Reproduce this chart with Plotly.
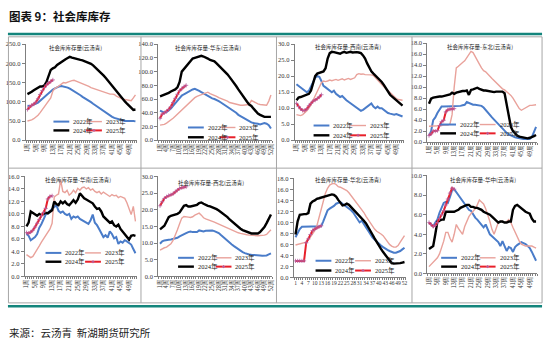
import plotly.graph_objects as go

W, H = 550, 349

weeks = list(range(1, 53))
weeks_2025 = list(range(1, 14))
years = ["2022年", "2023年", "2024年", "2025年"]

# 社会库库存量 (全国)
total_2022 = [90, 89, 90, 92, 94, 98, 103, 108, 114, 119, 124, 128, 132, 135, 138, 140, 141, 140, 139, 137,
              134, 131, 128, 124, 120, 117, 113, 110, 107, 103, 99, 95, 91, 87, 83, 79, 75, 71, 67, 64,
              61, 58, 56, 54, 53, 51, 50, 50, 50, 51, 50, 49]
total_2023 = [50, 51, 53, 56, 60, 65, 72, 80, 88, 96, 103, 110, 128, 135, 138, 142, 148, 150, 149, 152,
              153, 155, 156, 154, 152, 150, 147, 145, 142, 140, 137, 135, 133, 131, 129, 127, 125, 123, 121, 120,
              120, 119, 115, 112, 109, 107, 106, 105, 104, 103, 110, 118]
total_2024 = [120, 122, 126, 130, 134, 138, 140, 140, 143, 152, 168, 183, 187, 190, 196, 200, 205, 208, 211, 214,
              217, 215, 213, 212, 210, 209, 208, 206, 205, 203, 199, 195, 190, 185, 180, 174, 168, 162, 155, 148,
              141, 134, 127, 120, 114, 107, 101, 95, 89, 83, 79, 80]
total_2025 = [80, 87, 91, 94, 99, 108, 119, 129, 137, 144, 149, 153, 157]

# 华东
east_2022 = [43, 41, 40, 41, 43, 46, 50, 54, 58, 62, 65, 67, 69, 71, 73, 74, 75, 74, 72, 70,
             68, 66, 64, 62, 61, 60, 59, 57, 55, 53, 51, 49, 46, 44, 42, 40, 37, 35, 33, 31,
             29, 28, 26, 25, 25, 24, 23, 24, 25, 24, 22, 17]
east_2023 = [22, 22, 23, 25, 27, 30, 32, 35, 38, 41, 44, 47, 50, 54, 57, 60, 62, 64, 65, 66,
             67, 69, 70, 68, 67, 66, 64, 62, 61, 59, 58, 57, 55, 54, 53, 52, 52, 51, 51, 51,
             51, 52, 58, 56, 54, 53, 52, 52, 51, 51, 57, 66]
east_2024 = [64, 65, 66, 67, 69, 71, 72, 74, 77, 85, 100, 104, 108, 112, 116, 119, 120, 121, 122, 123,
             122, 121, 119, 117, 116, 115, 112, 109, 106, 103, 100, 96, 92, 88, 84, 79, 74, 69, 64, 60,
             56, 52, 50, 46, 42, 39, 37, 35, 34, 34, 34, 34]
east_2025 = [32, 38, 40, 42, 45, 49, 55, 61, 67, 72, 75, 78, 80]

# 西南
southwest_2022 = [17.5, 17, 16.5, 16, 15.3, 15, 15.5, 17, 18.5, 19.5, 20, 19.8, 18.5, 17, 16.5, 16, 15.3, 15, 15.5, 14.5,
                  14, 13.5, 13.8, 13, 12.5, 12, 11.5, 11, 10.5, 10, 9.5, 9.2, 9.5, 10, 10.5, 11, 11.5, 10.5, 10, 10.5,
                  10, 10, 9.5, 9, 8.5, 8.3, 8.2, 8, 8.2, 8, 7.6, 7.4]
southwest_2023 = [8, 7.8, 7.7, 8, 8.5, 9.2, 10, 11, 12.5, 14, 15.5, 16.8, 18, 18.5, 18.3, 18.5, 18.8, 18.6, 18.8, 19,
                  18.7, 19, 19.2, 18.8, 19, 19.3, 19, 19.2, 19.5, 20.5, 20.8, 20.6, 20.7, 20.5, 20.5, 20.3, 20.4, 20.2, 19.5, 18.8,
                  18, 17.2, 16.5, 16, 15.5, 14.8, 14.2, 13.5, 13, 12.7, 12.6, 12.5]
southwest_2024 = [12.5, 13.3, 13.5, 13.8, 14, 14.3, 14.5, 15.5, 17.5, 20, 20.8, 21, 21.2, 21.5, 22.5, 25.5, 27.2, 27.6, 27.5, 27.3,
                  27.2, 27, 27.4, 27.6, 27.3, 27.5, 27.6, 27.4, 27.5, 27.5, 27.4, 27.2, 26.5, 25.5, 24, 22.5, 21.5, 20.8, 20.2, 19.6,
                  19, 18.2, 17.3, 16.3, 15, 14.2, 13.6, 13, 12.5, 11.8, 11.2, 10.8]
southwest_2025 = [11.5, 10.5, 9.8, 9.3, 9.3, 9.8, 10.8, 11.5, 12.2, 12.5, 13, 13.5, 14.2]

# 东北
northeast_2022 = [1.2, 2, 4, 4.5, 5.3, 6, 6.5, 6.5, 6.5, 6.5, 6.5, 6.5, 6.6, 6.6, 6.6, 6.6, 6.7, 6.8, 7.3, 7.1,
                  6.9, 6.8, 6.8, 6.7, 6.7, 6.6, 6.3, 5.8, 5.3, 4.9, 4.5, 4.1, 3.7, 3.3, 2.8, 2.4, 2, 1.7, 1.4, 1.2,
                  1, 0.9, 0.8, 0.7, 0.7, 0.6, 0.6, 0.6, 0.6, 0.9, 1.8, 2.8]
northeast_2023 = [2.9, 2.9, 3, 2.9, 3, 3, 3, 3.1, 3.1, 3.1, 3.3, 5, 10, 13.5, 13.8, 14.2, 14.5, 14.8, 15.3, 16,
                  16.5, 16.3, 15.5, 14.8, 14.2, 13.5, 13, 12.8, 12.3, 12, 11.6, 11.2, 10.8, 10.4, 10, 9.7, 9.5, 9.2, 8.8, 8.5,
                  8, 7.4, 6.7, 6.1, 5.8, 6, 6.3, 6.5, 6.7, 6.7, 6.8, 6.8]
northeast_2024 = [7, 7.9, 8.1, 8.2, 8.3, 8.3, 8.3, 8.4, 8.5, 8.6, 8.7, 9, 8.8, 9, 9.1, 9.3, 9.3, 9.3, 9.4, 8.6,
                  9.5, 9.6, 9.8, 9.9, 9.7, 9.5, 9.4, 9.4, 9.3, 9.2, 9.1, 9.1, 9.2, 9.2, 9.3, 9.2, 8.9, 7, 4.5, 2.8,
                  2, 1.5, 1.2, 1, 0.9, 0.8, 0.7, 0.7, 0.8, 0.9, 1.1, 1.3]
northeast_2025 = [1.2, 1.5, 2, 2, 2.1, 3, 3.7, 4, 5.5, 5.9, 6, 6, 6.1]

# 华南
south_2022 = [6.8, 6.5, 5.8, 6, 6.3, 6.8, 7.8, 8.4, 9.3, 9.9, 10.2, 10.5, 10.8, 11.2, 11.4, 10.5, 10.2, 10.4, 10, 9.8,
              10, 9.2, 9.6, 9.4, 9.6, 9.2, 9, 8.8, 8.6, 8.4, 9, 9.9, 8.6, 8.2, 7.6, 6.8, 6.3, 6.6, 6.2, 7.2,
              6.8, 6.1, 6.3, 5.2, 5.6, 5.4, 5.8, 5.6, 5.3, 5.1, 4.4, 3.7]
south_2023 = [3.5, 3.2, 3, 3.2, 3.7, 4.3, 4.9, 5.5, 6, 6.5, 7, 7.6, 8.5, 12.7, 13, 13.2, 15.4, 13.6, 13.4, 13.8,
              13, 13.3, 13.8, 13.4, 14.1, 13.8, 14.2, 14.3, 14, 14.2, 13.8, 14, 13.6, 13.4, 13.6, 13.2, 13.5, 13.3, 13, 12.8,
              13.1, 12.9, 13, 12.6, 12.8, 12.7, 12.5, 11.8, 10.9, 9.9, 11.2, 8.8]
south_2024 = [8, 8.6, 10.4, 10.2, 9.9, 9.7, 10, 9.8, 10, 10.2, 10.1, 10.4, 10.6, 12, 11.6, 11.4, 12, 11.7, 12, 11.6,
              11.4, 11.8, 12.2, 11.8, 12.3, 13.3, 12.9, 12.5, 12.3, 12.1, 12, 11.7, 11.2, 10.8, 10.9, 10.4, 9.6, 9.3, 9, 8.6,
              8.8, 8.2, 8, 8.3, 7.6, 7.2, 6.8, 6.4, 5.9, 6.5, 6.6, 6.5]
south_2025 = [7, 6.9, 7.1, 7.4, 7.9, 8.5, 9.1, 9.7, 10.2, 10.9, 12.4, 12.8, 12.9]

# 西北
northwest_2022 = [9.8, 10.5, 10.8, 11, 11, 11.1, 11.2, 11.4, 11.6, 12, 12.4, 12.8, 13, 13.3, 13.5, 13.3, 13.3, 13.3, 13.8, 13.6,
                  13.5, 13.7, 13.8, 13.9, 13.8, 13.6, 13.3, 13, 12.4, 11.8, 11.1, 10.6, 10, 9.6, 9.1, 8.6, 8.2, 7.7, 7.3, 7,
                  6.7, 6.6, 6.5, 6.5, 6.4, 6.3, 6.3, 6.2, 6.2, 6.3, 6.6, 6.9]
northwest_2023 = [7.9, 8.3, 8.6, 8.8, 9.2, 9.8, 10.8, 12.2, 14, 15.8, 17.5, 18, 17.8, 17.8, 17.7, 17.9, 18.4, 18.6, 19, 18.4,
                  17.6, 17.3, 17.1, 16.8, 16.5, 16.3, 16, 15.7, 15.3, 15, 14.7, 14.4, 14.1, 13.8, 13.5, 13.3, 13.1, 12.9, 12.7, 12.6,
                  12.5, 12.4, 12.3, 12.2, 12.1, 12.2, 12.3, 12.3, 12.4, 12.6, 13.2, 14]
northwest_2024 = [14.1, 14.7, 15.2, 16.5, 17.8, 18.2, 18.4, 18.5, 18.8, 19.2, 20.4, 21.2, 21.4, 21, 21, 21.2, 21.3, 21.5, 22, 22.2,
                  21.8, 21.4, 21.2, 21, 20.8, 20.5, 20.2, 19.8, 19.3, 18.8, 18.4, 17.8, 17.1, 16.5, 15.8, 15.3, 14.8, 14.3, 13.9, 13.6,
                  13.3, 13, 12.9, 12.9, 12.8, 12.9, 13.3, 14, 14.8, 16, 17.3, 18.6]
northwest_2025 = [21.2, 22.4, 23.4, 23.9, 24.3, 24.5, 24.8, 25.4, 25.9, 26.4, 26.6, 26.8, 26.9]

# 华北
north_2022 = [7.3, 8, 8.8, 9.2, 9.2, 9.2, 9.2, 9.2, 9.2, 9.2, 9.2, 9.2, 9.3, 10.2, 11.2, 12.2, 12.5, 12.7, 13, 13.4,
              13.6, 13.7, 13.4, 13.1, 12.8, 12.6, 12.2, 11.8, 11.2, 10.6, 10, 10.3, 9.6, 9.1, 8.5, 7.8, 7.3, 6.9, 6.5, 6.1,
              5.8, 5.5, 5.2, 5, 4.8, 4.6, 4.5, 4.5, 4.6, 4.8, 5.1, 5.4]
north_2023 = [5.9, 6, 6.1, 6.2, 6.3, 6.4, 6.8, 7.3, 7.8, 8.5, 9.4, 11, 12.5, 14.2, 15.3, 16.2, 16.8, 17, 17.1, 16.9,
              16.5, 16.4, 16.2, 16.1, 15.8, 15.4, 14.9, 14.4, 13.9, 13.4, 12.9, 12.4, 11.8, 11.1, 10.5, 10, 9.4, 8.8, 8.4, 8.2,
              7.9, 7.6, 7.1, 6.4, 6, 5.7, 5.5, 5.5, 5.8, 6.4, 7, 7.6]
north_2024 = [7.8, 10.2, 11.4, 11.5, 11.5, 11.5, 11.7, 13.4, 13.8, 14, 14.3, 14.4, 14.5, 14.6, 14.8, 14.9, 15, 15.1, 15, 14.7,
              14.1, 13.6, 13.1, 13.2, 13.4, 13.2, 12.8, 12.4, 12, 11.6, 11.2, 10.8, 10.3, 9.8, 9.2, 8.5, 7.8, 7.1, 6.4, 5.8,
              5.2, 4.6, 4.1, 3.6, 3.1, 2.6, 2.5, 2.5, 2.6, 2.6, 2.7, 2.8]
north_2025 = [3, 3, 3, 3, 3, 6.3, 7, 7.8, 8.5, 8.8, 9, 9.2, 9.4]

# 华中
central_2022 = [5.2, 5, 4.8, 5.2, 5.5, 6.2, 6.8, 7.2, 7.3, 7.2, 7.8, 8.5, 8.6, 8.3, 8, 7.7, 7.3, 7, 6.8, 6.5,
                6.4, 6, 5.7, 5.5, 5.2, 4.9, 4.7, 5, 4.5, 4, 3.8, 3.6, 3.5, 3.2, 2.8, 3.3, 2.8, 2.3, 2.7, 2.6,
                2.2, 2.7, 2.9, 3.1, 3.2, 3.1, 3, 2.8, 2.6, 2.2, 1.7, 1.3]
central_2023 = [0.7, 0.9, 1.1, 1.3, 1.6, 2, 2.6, 3.3, 4.2, 4.2, 3.6, 3.2, 4, 5, 4.6, 4.3, 4, 4.8, 5.4, 5.8,
                6.1, 6.3, 6.6, 7, 7.5, 7.3, 7.1, 6.6, 6, 5.3, 4.5, 4, 4.6, 5.2, 5.3, 5.3, 5.2, 5.3, 5.5, 5.2,
                4.7, 4.2, 3.7, 3.3, 3, 2.9, 2.8, 2.8, 2.8, 2.8, 2.7, 2.6]
central_2024 = [2.5, 2.7, 2.8, 4, 5.3, 5.4, 5.5, 5.5, 6.3, 6.3, 6.3, 6.3, 6.3, 6.4, 6.5, 6.7, 6.8, 6.9, 7, 7,
                6.8, 6.8, 6.7, 6.7, 6.6, 6.5, 6.3, 6.2, 6.1, 6, 5.8, 5.6, 5.3, 5.2, 5.3, 5.3, 5.2, 5.2, 5.3, 5.3,
                6.5, 6.9, 7, 6.8, 6.7, 6.5, 6.3, 6.2, 6.1, 5.6, 5.3, 5.3]
central_2025 = [5.2, 5, 4.8, 4.9, 5.2, 5.6, 6, 6.4, 7, 7.6, 8.2, 8.7, 8.6]

line_colors = ["#4A7CC9", "#E9A29B", "#000000", "#E8202A"]
line_widths = [2, 1.4, 2.4, 2]
marker_color = "#B65C9E"
teal = "#13857C"
frame_gray = "#A6A6A6"
axis_gray = "#7F7F7F"
CJK = "Noto Sans CJK SC"
NUM = "Liberation Serif, Noto Sans CJK SC"

# panel layout: plot box in pixels (left, right, top, bottom), legend anchors
# (glyph x col1, glyph x col2, row1 y, row2 y) and title centre
panels = [
    dict(title="社会库库存量(云汤青)", data=(total_2022, total_2023, total_2024, total_2025),
         ymax=250, dtick=50, step=4, numeric=False, box=(23, 135, 41, 139),
         legend=(51, 84, 120, 129), tpos=(73, 45)),
    dict(title="社会库库存量-华东(云汤青)", data=(east_2022, east_2023, east_2024, east_2025),
         ymax=140, dtick=20, step=3, numeric=False, box=(157, 272, 41, 139),
         legend=(187, 219, 126, 136), tpos=(207, 45)),
    dict(title="社会库库存量-西南(云汤青)", data=(southwest_2022, southwest_2023, southwest_2024, southwest_2025),
         ymax=30, dtick=5, step=4, numeric=False, box=(295, 405, 41, 139),
         legend=(314, 351, 124, 134), tpos=(349, 44)),
    dict(title="社会库库存量-东北(云汤青)", data=(northeast_2022, northeast_2023, northeast_2024, northeast_2025),
         ymax=18, dtick=2, step=4, numeric=False, box=(429, 540, 40, 141),
         legend=(442, 482, 123, 132), tpos=(482, 44)),
    dict(title="社会库库存量-华南(云汤青)", data=(south_2022, south_2023, south_2024, south_2025),
         ymax=16, dtick=2, step=4, numeric=False, box=(22, 135, 176, 278),
         legend=(43, 83, 254, 263), tpos=(76, 180)),
    dict(title="社会库库存量-西北(云汤青)", data=(northwest_2022, northwest_2023, northwest_2024, northwest_2025),
         ymax=30, dtick=5, step=3, numeric=False, box=(157, 272, 176, 278),
         legend=(177, 215, 259, 268), tpos=(210, 183)),
    dict(title="社会库库存量-华北(云汤青)", data=(north_2022, north_2023, north_2024, north_2025),
         ymax=18, dtick=2, step=3, numeric=True, box=(294, 407, 178, 279),
         legend=(316, 356, 262, 272), tpos=(349, 180)),
    dict(title="社会库库存量-华中(云汤青)", data=(central_2022, central_2023, central_2024, central_2025),
         ymax=10, dtick=2, step=4, numeric=False, box=(429, 540, 175, 275),
         legend=(443, 482, 259, 268), tpos=(485, 180)),
]


def px(x):
    return x / W


def py(y):
    return 1 - y / H


fig = go.Figure()
annotations = []
shapes = []
layout_axes = {}

for i, p in enumerate(panels, start=1):
    xa = "x" if i == 1 else f"x{i}"
    ya = "y" if i == 1 else f"y{i}"
    x0, x1, yt, yb = p["box"]

    for k, vals in enumerate(p["data"]):
        xs = weeks_2025 if k == 3 else weeks
        tr = dict(x=xs, y=vals, name=years[k], xaxis=xa, yaxis=ya, showlegend=False,
                  line=dict(color=line_colors[k], width=line_widths[k]))
        if k == 3:
            tr.update(mode="lines+markers",
                      marker=dict(symbol="cross-thin", size=3, color=marker_color,
                                  line=dict(color=marker_color, width=0.8)))
        else:
            tr.update(mode="lines")
        fig.add_trace(go.Scatter(**tr))

    tickvals = list(range(1, 53, p["step"]))
    if p["numeric"]:
        ticktext = [str(w) for w in tickvals]
        angle = 0
        tfont = dict(family=NUM, size=5.5, color="#333333")
    else:
        ticktext = [f"{w}周" for w in tickvals]
        angle = -90
        tfont = dict(family=CJK, size=5.5, color="#333333")

    layout_axes["xaxis" if i == 1 else f"xaxis{i}"] = dict(
        domain=[px(x0), px(x1)], anchor=ya, range=[0.2, 52.5],
        tickmode="array", tickvals=tickvals, ticktext=ticktext, tickangle=angle,
        tickfont=tfont, ticks="", showgrid=False, zeroline=False,
        showline=True, linecolor=axis_gray, linewidth=1,
        minor=dict(ticks="outside", ticklen=2, tickcolor=axis_gray, tick0=0.5, dtick=1, showgrid=False),
    )
    layout_axes["yaxis" if i == 1 else f"yaxis{i}"] = dict(
        domain=[py(yb), py(yt)], anchor=xa, range=[0, p["ymax"]], dtick=p["dtick"],
        tickformat=".1f", tickfont=dict(family=NUM, size=6.5, color="#333333"),
        ticks="outside", ticklen=3, tickcolor=axis_gray, showgrid=False, zeroline=False,
        showline=True, linecolor=axis_gray, linewidth=1,
    )

    # panel title
    annotations.append(dict(text=p["title"], x=px(p["tpos"][0]), y=py(p["tpos"][1]),
                            xref="paper", yref="paper", xanchor="center", yanchor="middle",
                            showarrow=False, font=dict(family=CJK, size=5.5, color="#222222")))

    # legend: 2 x 2 grid of line samples with labels
    lx1, lx2, ly1, ly2 = p["legend"]
    slots = [(lx1, ly1), (lx2, ly1), (lx1, ly2), (lx2, ly2)]
    for k, (gx, gy) in enumerate(slots):
        shapes.append(dict(type="line", xref="paper", yref="paper",
                           x0=px(gx), x1=px(gx + 16), y0=py(gy), y1=py(gy),
                           line=dict(color=line_colors[k], width=line_widths[k])))
        if k == 3:
            cx = gx + 8
            shapes.append(dict(type="line", xref="paper", yref="paper",
                               x0=px(cx - 1.5), x1=px(cx + 1.5), y0=py(gy), y1=py(gy),
                               line=dict(color=marker_color, width=1)))
            shapes.append(dict(type="line", xref="paper", yref="paper",
                               x0=px(cx), x1=px(cx), y0=py(gy - 1.5), y1=py(gy + 1.5),
                               line=dict(color=marker_color, width=1)))
        annotations.append(dict(text=years[k], x=px(gx + 18), y=py(gy), xref="paper", yref="paper",
                                xanchor="left", yanchor="middle", showarrow=False,
                                font=dict(family=NUM, size=6.5, color="#222222")))

# report frame: teal rules, panel grid
shapes += [
    dict(type="line", xref="paper", yref="paper", x0=px(5), x1=px(545), y0=py(30.5), y1=py(30.5),
         line=dict(color=teal, width=2.5)),
    dict(type="line", xref="paper", yref="paper", x0=px(5), x1=px(545), y0=py(308.5), y1=py(308.5),
         line=dict(color=teal, width=2.5)),
    dict(type="rect", xref="paper", yref="paper", x0=px(5.5), x1=px(545), y0=py(305), y1=py(33.5),
         line=dict(color=frame_gray, width=1)),
    dict(type="line", xref="paper", yref="paper", x0=px(5.5), x1=px(545), y0=py(167.5), y1=py(167.5),
         line=dict(color=frame_gray, width=1)),
]
for vx in (139.5, 276.5, 413.5):
    shapes.append(dict(type="line", xref="paper", yref="paper", x0=px(vx), x1=px(vx),
                       y0=py(33.5), y1=py(305), line=dict(color=frame_gray, width=1)))

annotations.append(dict(text="<b>图表 9：社会库库存</b>", x=px(4), y=py(12), xref="paper", yref="paper",
                        xanchor="left", yanchor="middle", showarrow=False,
                        font=dict(family=CJK, size=11.5, color="#111111")))
annotations.append(dict(text="来源：云汤青  新湖期货研究所", x=px(4), y=py(335), xref="paper", yref="paper",
                        xanchor="left", yanchor="middle", showarrow=False,
                        font=dict(family=CJK, size=10.5, color="#222222")))

fig.update_layout(
    width=W, height=H, margin=dict(l=0, r=0, t=0, b=0),
    paper_bgcolor="white", plot_bgcolor="white",
    showlegend=False, annotations=annotations, shapes=shapes,
    **layout_axes,
)

fig.write_html("out.html")
